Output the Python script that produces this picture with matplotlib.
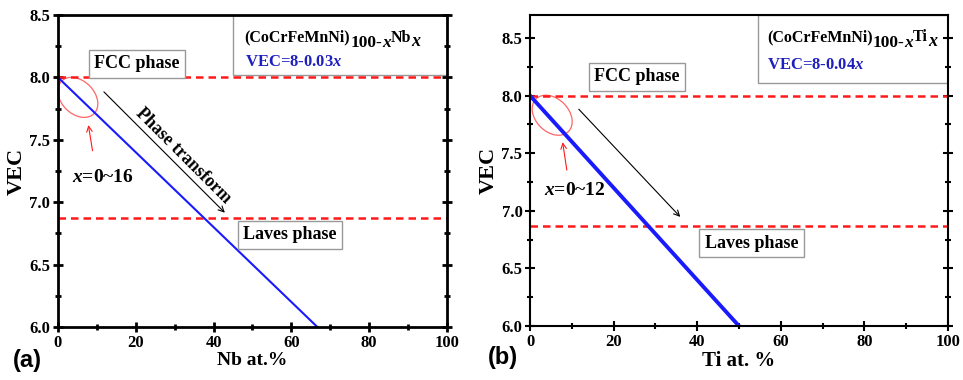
import numpy as np
import matplotlib
matplotlib.use("Agg")
import matplotlib.pyplot as plt
from matplotlib.patches import Ellipse, Rectangle
from matplotlib.transforms import ScaledTranslation
from matplotlib.ticker import MultipleLocator

plt.rcParams["font.family"] = ["Liberation Serif", "DejaVu Serif"]
plt.rcParams["font.weight"] = "bold"
plt.rcParams["mathtext.fontset"] = "custom"
plt.rcParams["mathtext.rm"] = "Liberation Serif:bold"
plt.rcParams["mathtext.bf"] = "Liberation Serif:bold"
plt.rcParams["mathtext.it"] = "Liberation Serif:italic:bold"

# VEC = 8 - k*x for the two alloy series
nb_x = [0, 66.67]
nb_vec = [8.0, 6.0]
ti_x = [0, 50]
ti_vec = [8.0, 6.0]
fcc_vec = 8.0
laves_vec = 6.87

RED = "#ff1a1a"
BLUE = "#1a1aff"
TXTBLUE = "#1f1fbf"
GREY = "#999999"

fig = plt.figure(figsize=(9.63, 3.8), dpi=100)
ax1 = fig.add_axes([0.0602, 0.1395, 0.404, 0.821])
ax2 = fig.add_axes([0.5504, 0.142, 0.434, 0.8185])


def style_axes(ax, ylim, lw):
    ax.set_xlim(0, 100)
    ax.set_ylim(*ylim)
    ax.xaxis.set_major_locator(MultipleLocator(20))
    ax.xaxis.set_minor_locator(MultipleLocator(10))
    ax.yaxis.set_major_locator(MultipleLocator(0.5))
    ax.yaxis.set_minor_locator(MultipleLocator(0.25))
    ax.tick_params(which="both", direction="inout", right=True, top=False,
                   labelsize=12, width=lw, pad=2)
    ax.tick_params(which="major", length=7)
    ax.tick_params(which="minor", length=5)
    for s in ax.spines.values():
        s.set_linewidth(lw)
    for lab in ax.get_xticklabels() + ax.get_yticklabels():
        lab.set_fontweight("bold")


def circle_mark(ax, cx, cy):
    tr = fig.dpi_scale_trans + ScaledTranslation(cx, cy, ax.transData)
    ax.add_patch(Ellipse((0, 0), 0.46, 0.33, angle=-45, transform=tr,
                         fill=False, ec="#ff6666", lw=0.9, clip_on=False))


def phase_box(ax, x, y, text):
    ax.text(x, y, text, fontsize=13, fontweight="bold", ha="center", va="center",
            bbox=dict(boxstyle="square,pad=0.3", fc="white", ec=GREY, lw=1))


def formula(ax, x, y, elem):
    # (CoCrFeMnNi)_{100-x} Elem_x written piece by piece, offsets in points
    pieces = [("(CoCrFeMnNi)", 11.5, 0, "normal"), ("100-", 12.5, -4, "normal"),
              ("x", 12.5, -4, "italic"), (elem, 11.5, 0, "normal"),
              ("x", 13, -3, "italic")]
    fig.canvas.draw()
    renderer = fig.canvas.get_renderer()
    xpix, ypix = ax.transAxes.transform((x, y))
    for text, size, dy, style in pieces:
        t = ax.text(xpix, ypix + dy * fig.dpi / 72, text, fontsize=size,
                    fontweight="bold", fontstyle=style, va="baseline",
                    transform=None)
        xpix = t.get_window_extent(renderer).x1


# ---- (a) Nb series ----
style_axes(ax1, (6.0, 8.5), 2.0)
ax1.axhline(fcc_vec, color=RED, ls="--", lw=1.8, dashes=(3, 2))
ax1.axhline(laves_vec, color=RED, ls="--", lw=1.8, dashes=(3, 2))
ax1.plot(nb_x, nb_vec, color=BLUE, lw=1.5)
ax1.add_patch(Rectangle((0.45, 0.808), 0.55, 0.192, transform=ax1.transAxes,
                        fc="white", ec=GREY, lw=1))
ax1.text(0.48, 0.849, r"VEC=8-0.03$x$", transform=ax1.transAxes,
         fontsize=12, fontweight="bold", color=TXTBLUE, va="center")
phase_box(ax1, 20.3, 8.11, "FCC phase")
phase_box(ax1, 59.6, 6.74, "Laves phase")
circle_mark(ax1, 5.1, 7.84)
ax1.annotate("", xy=(7.7, 7.64), xytext=(9.0, 7.39),
             arrowprops=dict(arrowstyle="->", color=RED, lw=0.8))
ax1.text(11.5, 7.2, r"$x$=0~16", fontsize=14, fontweight="bold", ha="center", va="center")
ax1.annotate("", xy=(43.4, 6.9), xytext=(11.3, 7.9),
             arrowprops=dict(arrowstyle="->", color="black", lw=0.8))
ax1.text(32.1, 7.37, "Phase transform", fontsize=13, fontweight="bold",
         rotation=-45, rotation_mode="anchor", ha="center", va="center")
ax1.set_xlabel("Nb at.%", fontsize=14, fontweight="bold", labelpad=1)
ax1.set_ylabel("VEC", fontsize=16, fontweight="bold", labelpad=2)

# ---- (b) Ti series ----
style_axes(ax2, (6.0, 8.7), 1.5)
ax2.axhline(fcc_vec, color=RED, ls="--", lw=1.8, dashes=(3, 2))
ax2.axhline(laves_vec, color=RED, ls="--", lw=1.8, dashes=(3, 2))
ax2.plot(ti_x, ti_vec, color=BLUE, lw=2.8)
ax2.add_patch(Rectangle((0.545, 0.781), 0.455, 0.219, transform=ax2.transAxes,
                        fc="white", ec=GREY, lw=1))
ax2.text(0.567, 0.839, r"VEC=8-0.04$x$", transform=ax2.transAxes,
         fontsize=12, fontweight="bold", color=TXTBLUE, va="center")
phase_box(ax2, 25.6, 8.165, "FCC phase")
phase_box(ax2, 53.0, 6.72, "Laves phase")
circle_mark(ax2, 5.3, 7.83)
ax2.annotate("", xy=(7.7, 7.62), xytext=(8.9, 7.33),
             arrowprops=dict(arrowstyle="->", color=RED, lw=0.8))
ax2.text(10.8, 7.18, r"$x$=0~12", fontsize=14, fontweight="bold", ha="center", va="center")
ax2.annotate("", xy=(36.4, 6.93), xytext=(11.2, 7.9),
             arrowprops=dict(arrowstyle="->", color="black", lw=0.8))
ax2.set_xlabel("Ti at. %", fontsize=15, fontweight="bold", labelpad=1)
ax2.set_ylabel("VEC", fontsize=16, fontweight="bold", labelpad=2)

fig.text(0.028, 0.05, "(a)", fontsize=17, family="Liberation Sans", ha="center", va="center")
fig.text(0.522, 0.058, "(b)", fontsize=17, family="Liberation Sans", ha="center", va="center")

# formula labels last, once the layout is fixed
formula(ax1, 0.48, 0.915, "Nb")
formula(ax2, 0.567, 0.915, "Ti")

fig.savefig("out.png", dpi=100)
